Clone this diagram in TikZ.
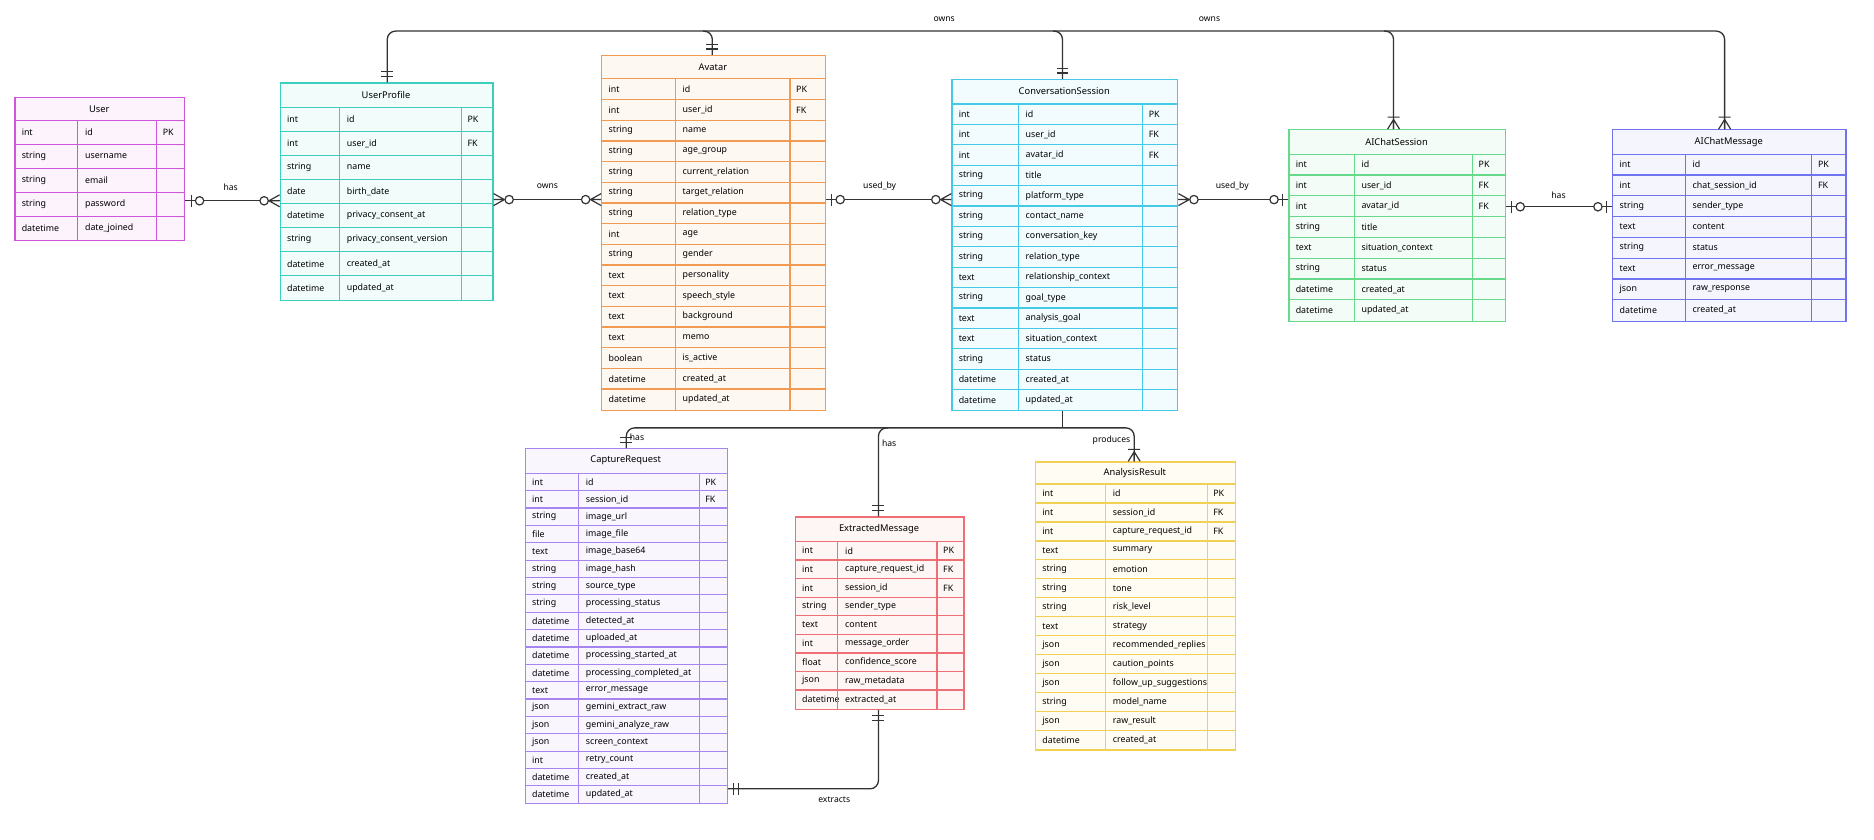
\documentclass[tikz,border=0pt]{standalone}
\usepackage{fontspec}
\setmainfont{Noto Sans}
\usetikzlibrary{calc}
\definecolor{cU}{HTML}{CF55DD}
\definecolor{cUP}{HTML}{3CCFC0}
\definecolor{cAv}{HTML}{F29A52}
\definecolor{cCS}{HTML}{45C9E6}
\definecolor{cAS}{HTML}{66D98A}
\definecolor{cAM}{HTML}{6F73EE}
\definecolor{cCR}{HTML}{A585F0}
\definecolor{cEM}{HTML}{EE6F76}
\definecolor{cAR}{HTML}{F2CF55}
\definecolor{ln}{HTML}{333333}
\tikzset{
 cell/.style={anchor=west,inner sep=0,font=\fontsize{7.4}{8}\selectfont},
 rel/.style={draw=ln,line width=1.1pt,rounded corners=7pt},
 lab/.style={font=\fontsize{7.2}{8}\selectfont,inner sep=1pt},
 mk/.style={draw=ln,line width=1pt}
}
\newcommand\ertable[6]{%
 \pgfmathsetmacro\Ht{\th+#5*#4}\pgfmathsetmacro\Wd{\xd-\xa}%
 \node[draw=#2,fill=#2!7,line width=1pt,inner sep=0,minimum width=\Wd pt,minimum height=\Ht pt,anchor=north west] (#1) at (\xa,\ya) {};
 \node[font=\fontsize{7.8}{9}\selectfont] at ({(\xa+\xd)/2},{\ya+\th/2}) {#3};
 \foreach \ty/\nm/\ky [count=\i] in {#6}{
   \pgfmathsetmacro\yy{\ya+\th+(\i-1)*#4}
   \draw[#2,line width=1pt] (\xa,\yy) -- (\xd,\yy);
   \node[cell] at (\xa+6,\yy+#4/2) {\ty};
   \node[cell] at (\xb+6,\yy+#4/2) {\nm};
   \node[cell] at (\xc+5,\yy+#4/2) {\ky};
 }
 \draw[#2,line width=1pt] (\xb,\ya+\th) -- (\xb,\ya+\Ht) (\xc,\ya+\th) -- (\xc,\ya+\Ht);
}
\newcommand\mkr[3]{\begin{scope}[shift={(#1)},rotate=#2]
 \ifx#3z\draw[mk] (9,0)--(0,5) (9,0)--(0,0) (9,0)--(0,-5); \draw[mk,fill=white] (13,0) circle (3.5pt);\fi
 \ifx#3o\draw[mk] (5,5)--(5,-5); \draw[mk,fill=white] (12,0) circle (3.5pt);\fi
 \ifx#3d\draw[mk] (5,5)--(5,-5) (9,5)--(9,-5);\fi
 \ifx#3m\draw[mk] (8,0)--(0,5) (8,0)--(0,0) (8,0)--(0,-5) (10,5)--(10,-5);\fi
\end{scope}}
\begin{document}
\catcode`\_=12
\begin{tikzpicture}[x=1pt,y=-1pt]
\useasboundingbox (0,0) rectangle (1568,702);
\fill[white] (0,0) rectangle (1568,702);
\def\xa{12}\def\xb{65}\def\xc{131}\def\xd{154}\def\ya{81}\def\th{20}
\ertable{tU}{cU}{User}{20}{5}{int/id/PK,string/username/,string/email/,string/password/,datetime/date_joined/}
\def\xa{234}\def\xb{284}\def\xc{386}\def\xd{412}\def\ya{69}\def\th{21}
\ertable{tUP}{cUP}{UserProfile}{20.1}{8}{int/id/PK,int/user_id/FK,string/name/,date/birth_date/,datetime/privacy_consent_at/,string/privacy_consent_version/,datetime/created_at/,datetime/updated_at/}
\def\xa{503}\def\xb{565}\def\xc{661}\def\xd{690}\def\ya{46}\def\th{20}
\ertable{tAv}{cAv}{Avatar}{17.3}{16}{int/id/PK,int/user_id/FK,string/name/,string/age_group/,string/current_relation/,string/target_relation/,string/relation_type/,int/age/,string/gender/,text/personality/,text/speech_style/,text/background/,text/memo/,boolean/is_active/,datetime/created_at/,datetime/updated_at/}
\def\xa{796}\def\xb{852}\def\xc{956}\def\xd{985}\def\ya{66}\def\th{21}
\ertable{tCS}{cCS}{ConversationSession}{17.07}{15}{int/id/PK,int/user_id/FK,int/avatar_id/FK,string/title/,string/platform_type/,string/contact_name/,string/conversation_key/,string/relation_type/,text/relationship_context/,string/goal_type/,text/analysis_goal/,text/situation_context/,string/status/,datetime/created_at/,datetime/updated_at/}
\def\xa{1078}\def\xb{1133}\def\xc{1232}\def\xd{1259}\def\ya{108}\def\th{21}
\ertable{tAS}{cAS}{AIChatSession}{17.4}{8}{int/id/PK,int/user_id/FK,int/avatar_id/FK,string/title/,text/situation_context/,string/status/,datetime/created_at/,datetime/updated_at/}
\def\xa{1349}\def\xb{1410}\def\xc{1516}\def\xd{1544}\def\ya{108}\def\th{21}
\ertable{tAM}{cAM}{AIChatMessage}{17.4}{8}{int/id/PK,int/chat_session_id/FK,string/sender_type/,text/content/,string/status/,text/error_message/,json/raw_response/,datetime/created_at/}
\def\xa{439}\def\xb{484}\def\xc{585}\def\xd{608}\def\ya{375}\def\th{21}
\ertable{tCR}{cCR}{CaptureRequest}{14.53}{19}{int/id/PK,int/session_id/FK,string/image_url/,file/image_file/,text/image_base64/,string/image_hash/,string/source_type/,string/processing_status/,datetime/detected_at/,datetime/uploaded_at/,datetime/processing_started_at/,datetime/processing_completed_at/,text/error_message/,json/gemini_extract_raw/,json/gemini_analyze_raw/,json/screen_context/,int/retry_count/,datetime/created_at/,datetime/updated_at/}
\def\xa{665}\def\xb{701}\def\xc{784}\def\xd{806}\def\ya{432}\def\th{21}
\ertable{tEM}{cEM}{ExtractedMessage}{15.55}{9}{int/id/PK,int/capture_request_id/FK,int/session_id/FK,string/sender_type/,text/content/,int/message_order/,float/confidence_score/,json/raw_metadata/,datetime/extracted_at/}
\def\xa{866}\def\xb{925}\def\xc{1010}\def\xd{1033}\def\ya{386}\def\th{19}
\ertable{tAR}{cAR}{AnalysisResult}{15.86}{14}{int/id/PK,int/session_id/FK,int/capture_request_id/FK,text/summary/,string/emotion/,string/tone/,string/risk_level/,text/strategy/,json/recommended_replies/,json/caution_points/,json/follow_up_suggestions/,string/model_name/,json/raw_result/,datetime/created_at/}

\path (tU.east|-0,168) coordinate (uE) (tUP.west|-0,168) coordinate (upW)
 (tUP.east|-0,167) coordinate (upE) (tAv.west|-0,167) coordinate (avW)
 (tAv.east|-0,167) coordinate (avE) (tCS.west|-0,167) coordinate (csW)
 (tCS.east|-0,167) coordinate (csE) (tAS.west|-0,167) coordinate (asW)
 (tAS.east|-0,173) coordinate (asE) (tAM.west|-0,173) coordinate (amW)
 (324,0|-tUP.north) coordinate (upT) (596,0|-tAv.north) coordinate (avT)
 (889,0|-tCS.north) coordinate (csT) (1166,0|-tAS.north) coordinate (asT)
 (1443,0|-tAM.north) coordinate (amT) (0,26) coordinate (top)
 (889,0|-tCS.south) coordinate (csB) (0,358) coordinate (bot)
 (524,0|-tCR.north) coordinate (crT) (735,0|-tEM.north) coordinate (emT)
 (949,0|-tAR.north) coordinate (arT) (tCR.east|-0,660) coordinate (crE)
 (735,0|-tEM.south) coordinate (emB);

\draw[rel] (uE) -- (upW); \mkr{uE}{0}{o} \mkr{upW}{180}{z}
\node[lab] at (193,157) {has};
\draw[rel] (upE) -- (avW); \mkr{upE}{0}{z} \mkr{avW}{180}{z}
\node[lab] at (458,156) {owns};
\draw[rel] (avE) -- (csW); \mkr{avE}{0}{o} \mkr{csW}{180}{z}
\node[lab] at (736,156) {used_by};
\draw[rel] (csE) -- (asW); \mkr{csE}{0}{z} \mkr{asW}{180}{o}
\node[lab] at (1031,156) {used_by};
\draw[rel] (asE) -- (amW); \mkr{asE}{0}{o} \mkr{amW}{180}{o}
\node[lab] at (1304,163) {has};

\draw[rel] (upT) -- (upT|-top) -- (amT|-top) -- (amT);
\draw[rel] ($(avT|-top)+(-8,0)$) -- (avT|-top) -- (avT);
\draw[rel] ($(csT|-top)+(-8,0)$) -- (csT|-top) -- (csT);
\draw[rel] ($(asT|-top)+(-8,0)$) -- (asT|-top) -- (asT);
\mkr{upT}{90}{d} \mkr{avT}{90}{d} \mkr{csT}{90}{d} \mkr{asT}{90}{m} \mkr{amT}{90}{m}
\node[lab] at (790,16) {owns};
\node[lab] at (1012,16) {owns};

\draw[rel] (crT) -- (crT|-bot) -- (arT|-bot) -- (arT);
\draw[rel] (csB) -- (csB|-bot);
\draw[rel] ($(emT|-bot)+(8,0)$) -- (emT|-bot) -- (emT);
\mkr{crT}{90}{d} \mkr{emT}{90}{d} \mkr{arT}{90}{m}
\node[lab] at (533,366) {has};
\node[lab] at (744,371) {has};
\node[lab] at (930,368) {produces};

\draw[rel] (crE) -| (emB); \mkr{crE}{0}{d} \mkr{emB}{270}{d}
\node[lab] at (698,669) {extracts};
\end{tikzpicture}
\end{document}
